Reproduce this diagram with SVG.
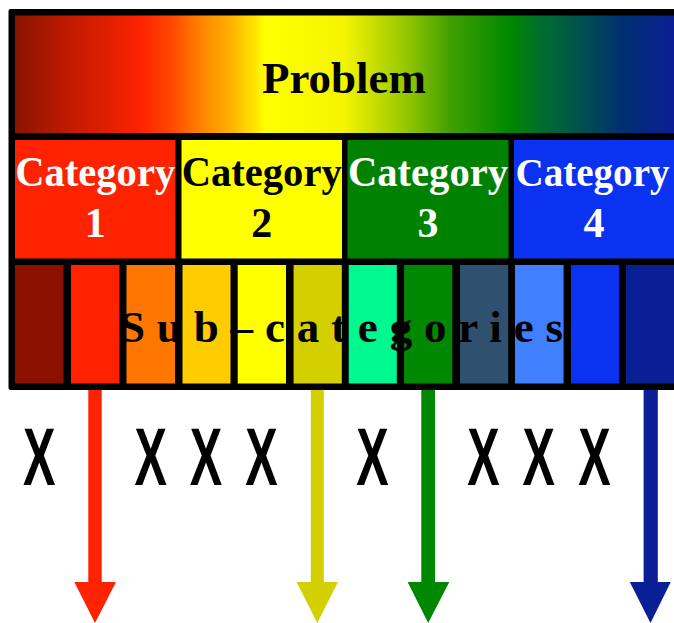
<svg xmlns="http://www.w3.org/2000/svg" width="674" height="623" viewBox="0 0 674 623">
  <defs>
    <linearGradient id="spectrum" gradientUnits="userSpaceOnUse" x1="15" y1="0" x2="675" y2="0">
      <stop offset="0" stop-color="#8a1400"/>
      <stop offset="0.07" stop-color="#b81a00"/>
      <stop offset="0.19" stop-color="#ff2200"/>
      <stop offset="0.24" stop-color="#ff4a00"/>
      <stop offset="0.285" stop-color="#ff8800"/>
      <stop offset="0.33" stop-color="#ffb400"/>
      <stop offset="0.38" stop-color="#ffff00"/>
      <stop offset="0.5" stop-color="#f4f400"/>
      <stop offset="0.59" stop-color="#98c800"/>
      <stop offset="0.66" stop-color="#40a000"/>
      <stop offset="0.75" stop-color="#008800"/>
      <stop offset="0.8" stop-color="#006c30"/>
      <stop offset="0.86" stop-color="#005050"/>
      <stop offset="0.92" stop-color="#003070"/>
      <stop offset="1" stop-color="#0a1e96"/>
    </linearGradient>
  </defs>
  <style>
    .serif { font-family: "Liberation Serif", "Times New Roman", serif; font-weight: bold; }
    .title { font-size: 45px; fill: #000; }
    .cat { font-size: 42px; }
    .cat-edge { font-size: 40px; }
    .light { fill: #ffffff; }
    .dark { fill: #000000; }
    .sub { font-size: 45px; fill: #000; }
    .x { font-family: "Liberation Sans", Arial, sans-serif; font-weight: bold; font-size: 81px; fill: #000; }
  </style>
  <rect width="674" height="623" fill="#ffffff"/>

  <g id="frame">
    <rect x="8.5" y="9" width="680" height="381" rx="2" fill="#000000"/>
  </g>

  <g id="problem">
    <rect x="15" y="15.5" width="662" height="117.5" fill="url(#spectrum)"/>
    <text class="serif title" x="344" y="93" text-anchor="middle" textLength="164" lengthAdjust="spacingAndGlyphs">Problem</text>
  </g>

  <g id="category-1">
    <rect x="15" y="140" width="160.5" height="118.5" fill="#ff2200"/>
    <text class="serif cat light" x="95.2" y="186" text-anchor="middle" textLength="160" lengthAdjust="spacingAndGlyphs">Category</text>
    <text class="serif cat light" x="95.2" y="237" text-anchor="middle">1</text>
  </g>
  <g id="category-2">
    <rect x="181.5" y="140" width="160.5" height="118.5" fill="#ffff00"/>
    <text class="serif cat dark" x="261.7" y="186" text-anchor="middle" textLength="160" lengthAdjust="spacingAndGlyphs">Category</text>
    <text class="serif cat dark" x="261.7" y="237" text-anchor="middle">2</text>
  </g>
  <g id="category-3">
    <rect x="347.5" y="140" width="161" height="118.5" fill="#008200"/>
    <text class="serif cat light" x="428" y="186" text-anchor="middle" textLength="160" lengthAdjust="spacingAndGlyphs">Category</text>
    <text class="serif cat light" x="428" y="237" text-anchor="middle">3</text>
  </g>
  <g id="category-4">
    <rect x="514" y="140" width="161" height="118.5" fill="#0a32f0"/>
    <text class="serif cat-edge light" x="592.5" y="186" text-anchor="middle" textLength="154" lengthAdjust="spacingAndGlyphs">Category</text>
    <text class="serif cat light" x="594" y="237" text-anchor="middle">4</text>
  </g>

  <g id="subcategories">
    <rect x="15" y="265" width="48.5" height="118.5" fill="#8b1000"/>
    <rect x="71" y="265" width="48.5" height="118.5" fill="#ff2200"/>
    <rect x="126.5" y="265" width="48.5" height="118.5" fill="#ff7700"/>
    <rect x="182.5" y="265" width="48" height="118.5" fill="#ffcc00"/>
    <rect x="237.7" y="265" width="48.3" height="118.5" fill="#ffff00"/>
    <rect x="293.6" y="265" width="48.2" height="118.5" fill="#d4d000"/>
    <rect x="348.7" y="265" width="48.1" height="118.5" fill="#00f890"/>
    <rect x="404.1" y="265" width="48.2" height="118.5" fill="#008800"/>
    <rect x="460" y="265" width="48.2" height="118.5" fill="#305070"/>
    <rect x="515" y="265" width="48.6" height="118.5" fill="#4080ff"/>
    <rect x="571" y="265" width="48" height="118.5" fill="#0a32f0"/>
    <rect x="626" y="265" width="49" height="118.5" fill="#0a1e96"/>
    <text class="serif sub" x="120" y="342" textLength="443" lengthAdjust="spacing">S u b – c a t e g o r i e s</text>
  </g>

  <g id="excluded">
    <text class="x" transform="translate(39.3,485) scale(0.6,1)" text-anchor="middle">X</text>
    <text class="x" transform="translate(150.7,485) scale(0.6,1)" text-anchor="middle">X</text>
    <text class="x" transform="translate(206,485) scale(0.6,1)" text-anchor="middle">X</text>
    <text class="x" transform="translate(261.5,485) scale(0.6,1)" text-anchor="middle">X</text>
    <text class="x" transform="translate(372.5,485) scale(0.6,1)" text-anchor="middle">X</text>
    <text class="x" transform="translate(483.5,485) scale(0.6,1)" text-anchor="middle">X</text>
    <text class="x" transform="translate(538.8,485) scale(0.6,1)" text-anchor="middle">X</text>
    <text class="x" transform="translate(594.5,485) scale(0.6,1)" text-anchor="middle">X</text>
  </g>

  <g id="connectors">
    <path d="M88.3 390 H101.7 V582 H116 L95 623 L74.3 582 H88.3 Z" fill="#ff2200"/>
    <path d="M310.8 390 H323.8 V582 H338 L317.3 623 L296.6 582 H310.8 Z" fill="#d4d000"/>
    <path d="M421.3 390 H435 V582 H449.3 L428.2 623 L407.6 582 H421.3 Z" fill="#008800"/>
    <path d="M643.6 390 H657.8 V582 H670.8 L650.5 623 L629.8 582 H643.6 Z" fill="#0a1e96"/>
  </g>
</svg>
